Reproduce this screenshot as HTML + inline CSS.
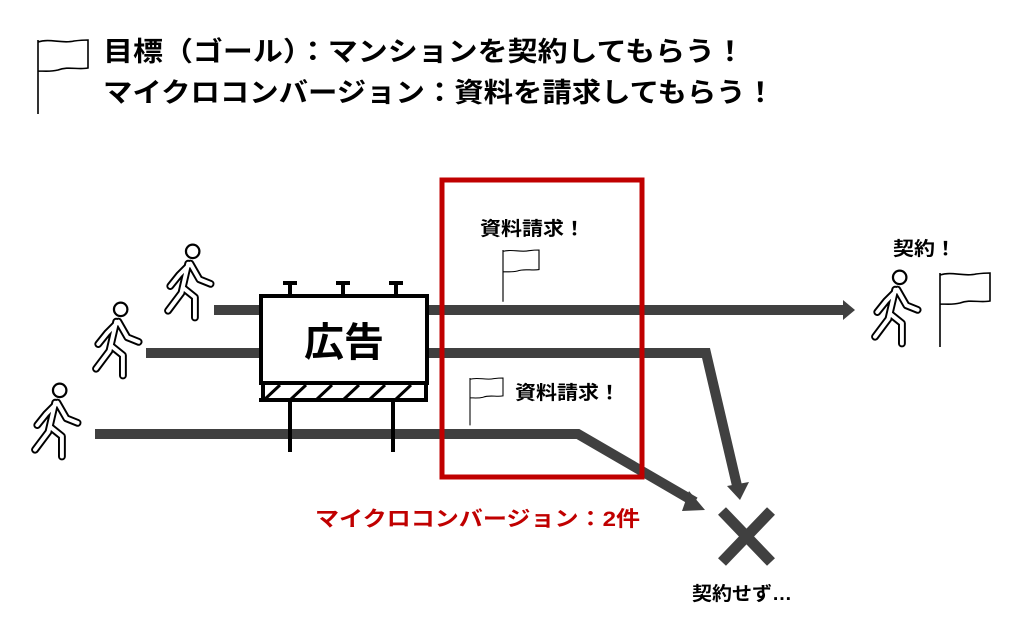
<!DOCTYPE html>
<html><head><meta charset="utf-8"><style>
html,body{margin:0;padding:0;background:#fff;}
svg{display:block;font-family:"Liberation Sans","Noto Sans CJK JP",sans-serif;}
</style></head><body>
<svg width="1013" height="632" viewBox="0 0 1013 632" xmlns="http://www.w3.org/2000/svg">
<defs>
<g id="flag"><path d="M0,0 V74 M0,2 C12,-2 24,4 36,1 C44,0 50,0 50,0 V28 C40,30 30,26 20,30 C12,32 6,31 0,31" fill="#fff" stroke="#000" stroke-width="1.6"/></g>
<g id="walker">
<g fill="none" stroke="#000" stroke-width="7" stroke-linecap="round" stroke-linejoin="round">
<path d="M12,14 L2,24 L-6,34 M12,14 L20,28 L30,32 M10,14 L4,40 L-8,56 M6,36 L16,44 L16,62"/>
</g>
<g fill="none" stroke="#fff" stroke-width="3.5" stroke-linecap="round" stroke-linejoin="round">
<path d="M12,14 L2,24 L-6,34 M12,14 L20,28 L30,32 M10,14 L4,40 L-8,56 M6,36 L16,44 L16,62"/>
</g>
<circle cx="14" cy="3" r="6" fill="#fff" stroke="#000" stroke-width="2"/>
</g>
</defs>
<!-- title -->
<use href="#flag" transform="translate(38,40)"/>
<text x="103" y="61" font-size="27" font-weight="bold" textLength="642" lengthAdjust="spacingAndGlyphs">目標（ゴール）：マンションを契約してもらう！</text>
<text x="103" y="102" font-size="27" font-weight="bold" textLength="672" lengthAdjust="spacingAndGlyphs">マイクロコンバージョン：資料を請求してもらう！</text>

<!-- lines -->
<g stroke="#404040" stroke-width="10" fill="none">
<path d="M214,310 H845"/>
<path d="M146,353 H706 L738,490"/>
<path d="M95,434 H578 L695,502"/>
</g>
<g fill="#404040">
<path d="M843,300 L855,310 L843,320 Z"/>
<path d="M727,486 L749,482 L740,500 Z"/>
<path d="M689,491 L705,510 L682,511 Z"/>
</g>

<!-- billboard -->
<g stroke="#000" stroke-width="4" fill="none">
<path d="M290,283 V296 M343,283 V296 M396,283 V296"/>
<path d="M283,283 H297 M336,283 H350 M389,283 H403"/>
<path d="M290,400 V452 M393,400 V452"/>
<path d="M259,400 H428"/>
<path d="M263,384 V400 M426,384 V400"/>
</g>
<g stroke="#000" stroke-width="3">
<path d="M264,400 L280,385 M290,400 L306,385 M316,400 L332,385 M343,400 L359,385 M369,400 L385,385 M395,400 L411,385"/>
</g>
<rect x="261" y="296" width="166" height="87" fill="#fff" stroke="#000" stroke-width="4"/>
<text x="344" y="356" font-size="40" font-weight="bold" text-anchor="middle">広告</text>

<!-- red box -->
<rect x="442" y="180" width="200" height="297" fill="none" stroke="#c00000" stroke-width="5"/>

<!-- flags and labels -->
<use href="#flag" transform="translate(503,250) scale(0.72,0.7)"/>
<text x="480" y="235" font-size="19" font-weight="bold" textLength="105" lengthAdjust="spacingAndGlyphs">資料請求！</text>
<use href="#flag" transform="translate(470,378) scale(0.66,0.64)"/>
<text x="515" y="399" font-size="19" font-weight="bold" textLength="105" lengthAdjust="spacingAndGlyphs">資料請求！</text>
<use href="#flag" transform="translate(940,273)"/>
<text x="893" y="255" font-size="19" font-weight="bold" textLength="63" lengthAdjust="spacingAndGlyphs">契約！</text>

<!-- walkers -->
<use href="#walker" transform="translate(177,248) scale(1.12)"/>
<use href="#walker" transform="translate(105,306) scale(1.12)"/>
<use href="#walker" transform="translate(44,387) scale(1.12)"/>
<use href="#walker" transform="translate(884,274) scale(1.12)"/>

<!-- X -->
<g stroke="#404040" stroke-width="11">
<path d="M722,511 L771,562 M771,511 L722,562"/>
</g>
<text x="692" y="600" font-size="19" font-weight="bold" textLength="100" lengthAdjust="spacingAndGlyphs">契約せず…</text>
<text x="315" y="526" font-size="21" font-weight="bold" fill="#c00000" textLength="325" lengthAdjust="spacingAndGlyphs">マイクロコンバージョン：2件</text>
</svg>
</body></html>
